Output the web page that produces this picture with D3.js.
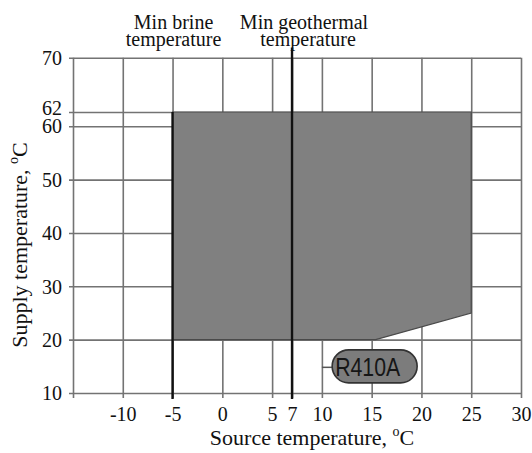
<!DOCTYPE html>
<html>
<head>
<meta charset="utf-8">
<script src="https://cdn.jsdelivr.net/npm/d3@7"></script>
<style>
  html, body { margin: 0; padding: 0; background: #fff; }
  svg { display: block; }
</style>
</head>
<body>
<svg id="chart" width="532" height="453"></svg>
<script>
// Operating envelope of an R410A heat pump: source vs. supply temperature
const sourceTicks = [-15, -10, -5, 0, 5, 7, 10, 15, 20, 25, 30];
const supplyTicks = [10, 20, 30, 40, 50, 60, 62, 70];

// Envelope outline as [source °C, supply °C]
const envelopeSource = [-5, -5, 25, 25, 15.4];
const envelopeSupply = [20, 62, 62, 25, 20];

// Vertical limit lines
const limitSource = [-5, 7];
const limitTop = [62, 71.5];
const limitLabels = [["Min brine", "temperature"], ["Min geothermal", "temperature"]];

const refrigerant = "R410A";
const refrigerantPos = [15.3, 15];

const svg = d3.select("#chart");
const serif = "'Liberation Serif', 'Times New Roman', serif";

const x = d3.scaleLinear().domain([-15, 30]).range([73, 521]);
// The supply axis is drawn with unequal steps above 60
const y = d3.scaleLinear().domain([10, 60, 62, 70]).range([393, 126.3, 112, 57.7]);

const gridColor = "#737373";

// Horizontal grid + supply tick labels
const yAxis = d3.axisLeft(y)
  .tickValues(supplyTicks)
  .tickSizeInner(-(x(30) - x(-15) + 4))
  .tickSizeOuter(0)
  .tickPadding(7)
  .tickFormat(d => String(d));
const gy = svg.append("g").attr("transform", `translate(${x(-15) - 4},0)`).call(yAxis);
gy.select(".domain").remove();
gy.selectAll(".tick line").attr("stroke", gridColor).attr("stroke-width", 1.6);
gy.selectAll(".tick text")
  .attr("font-family", serif).attr("font-size", 20).attr("fill", "#111")
  .attr("dy", d => d === 62 ? "0.1em" : d === 60 ? "0.33em" : "0.34em");

// Vertical grid + source tick labels (plain hyphen for negatives)
const xAxis = d3.axisBottom(x)
  .tickValues(sourceTicks)
  .tickSizeInner(-(y(10) - y(70) + 5))
  .tickSizeOuter(0)
  .tickPadding(9)
  .tickFormat(d => d === -15 ? "" : String(d));
const gx = svg.append("g").attr("transform", `translate(0,${y(10) + 5})`).call(xAxis);
gx.select(".domain").remove();
gx.selectAll(".tick line").attr("stroke", gridColor).attr("stroke-width", 1.6);
gx.selectAll(".tick text")
  .attr("font-family", serif).attr("font-size", 20).attr("fill", "#111");

// Operating envelope
const envelope = envelopeSource.map((s, i) => [x(s), y(envelopeSupply[i])]);
svg.append("path")
  .attr("d", d3.line()(envelope) + "Z")
  .attr("fill", "#808080")
  .attr("stroke", "#4a4a4a")
  .attr("stroke-width", 1.2);

// Limit lines
svg.selectAll(".limit")
  .data(limitSource)
  .join("line")
  .attr("class", "limit")
  .attr("x1", d => x(d)).attr("x2", d => x(d))
  .attr("y1", (d, i) => y(limitTop[i]))
  .attr("y2", y(10) + 6)
  .attr("stroke", "#111")
  .attr("stroke-width", 2.4);

// Limit captions
const captionOffset = [1, 12];
limitSource.forEach((s, i) => {
  const t = svg.append("text")
    .attr("font-family", serif).attr("font-size", 20).attr("fill", "#111")
    .attr("text-anchor", "middle");
  limitLabels[i].forEach((line, j) => {
    t.append("tspan")
      .attr("x", x(s) + captionOffset[i] + (j === 1 && i === 1 ? 4 : 0))
      .attr("y", 28.5 + j * 17)
      .text(line);
  });
});

// Refrigerant tag
const px = x(refrigerantPos[0]), py = y(refrigerantPos[1]);
const pw = 85, ph = 33;
svg.append("line")
  .attr("x1", x(10)).attr("x2", px - pw / 2)
  .attr("y1", py + 1).attr("y2", py + 1)
  .attr("stroke", "#555").attr("stroke-width", 1.5);
svg.append("rect")
  .attr("x", px - pw / 2).attr("y", py - ph / 2)
  .attr("width", pw).attr("height", ph)
  .attr("rx", ph / 2).attr("ry", ph / 2)
  .attr("fill", "#7c7c7c")
  .attr("stroke", "#333").attr("stroke-width", 1.6);
svg.append("text")
  .attr("x", px - 7).attr("y", py + 10)
  .attr("text-anchor", "middle")
  .attr("font-family", "'Liberation Sans Narrow', 'Liberation Sans', Arial, sans-serif")
  .attr("font-size", 25)
  .attr("textLength", 65).attr("lengthAdjust", "spacingAndGlyphs")
  .attr("fill", "#161616")
  .text(refrigerant);

// Axis titles
function degreeTitle(sel, label) {
  sel.append("tspan").text(label);
  sel.append("tspan").attr("font-size", 14).attr("dy", -9).text("o");
  sel.append("tspan").attr("dy", 9).text("C");
}
const xt = svg.append("text")
  .attr("x", 312).attr("y", 445)
  .attr("text-anchor", "middle")
  .attr("font-family", serif).attr("font-size", 22).attr("fill", "#111");
degreeTitle(xt, "Source temperature, ");

const yt = svg.append("text")
  .attr("transform", "translate(27,245) rotate(-90)")
  .attr("text-anchor", "middle")
  .attr("font-family", serif).attr("font-size", 22).attr("fill", "#111");
degreeTitle(yt, "Supply temperature, ");
</script>
</body>
</html>
